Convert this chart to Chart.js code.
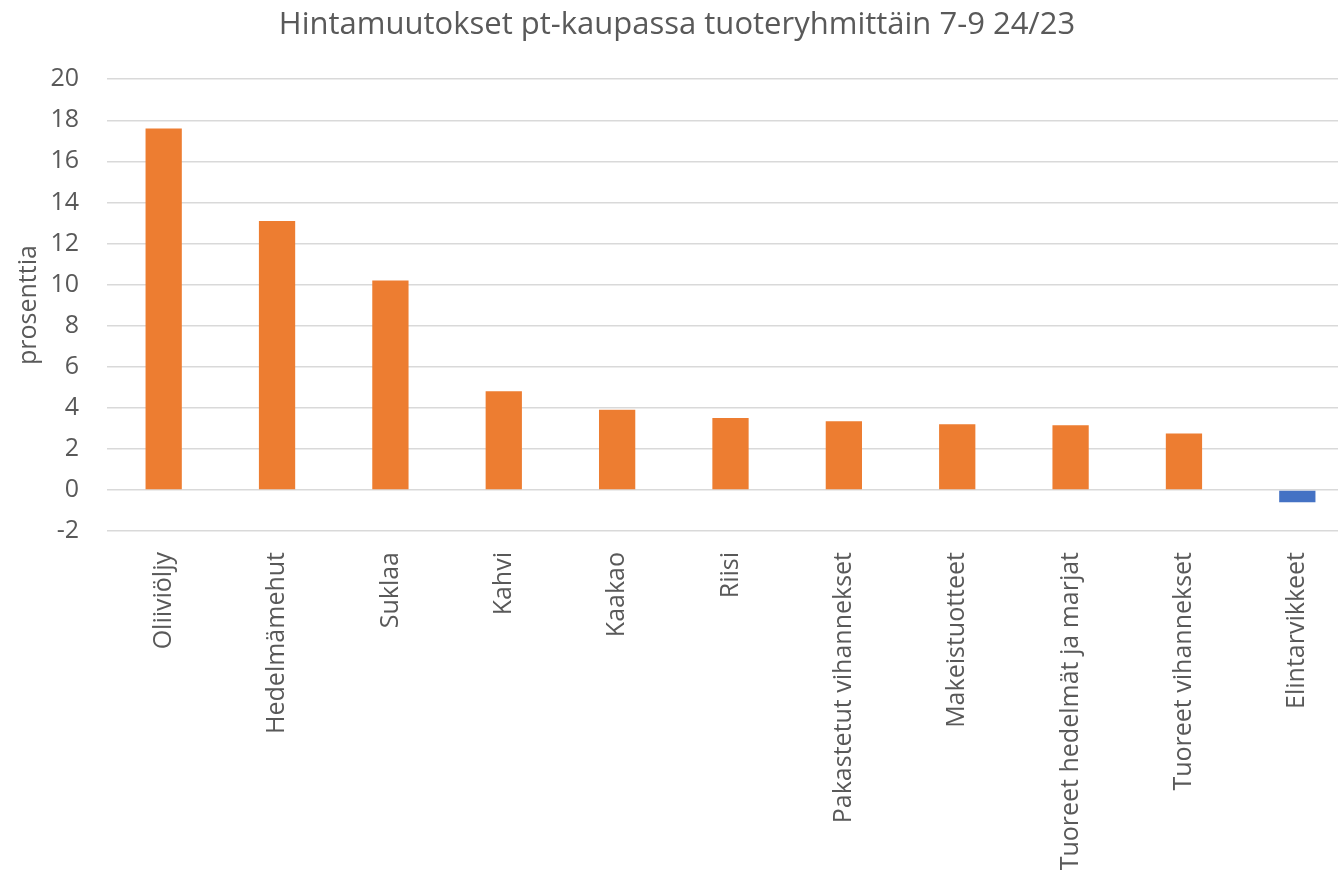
<!DOCTYPE html>
<html>
<head>
<meta charset="utf-8">
<script src="https://cdn.jsdelivr.net/npm/chart.js@4.4.1/dist/chart.umd.min.js"></script>
<style>
    html, body { margin: 0; padding: 0; background: #fff; overflow: hidden; }
    #wrap { width: 1354px; height: 877px; position: relative; }
</style>
</head>
<body>
<div id="wrap"><canvas id="chart"></canvas></div>
<script>
const title = "Hintamuutokset pt-kaupassa tuoteryhmittäin 7-9 24/23";
const yAxisLabel = "prosenttia";

const categories = [
    "Oliiviöljy",
    "Hedelmämehut",
    "Suklaa",
    "Kahvi",
    "Kaakao",
    "Riisi",
    "Pakastetut vihannekset",
    "Makeistuotteet",
    "Tuoreet hedelmät ja marjat",
    "Tuoreet vihannekset",
    "Elintarvikkeet",
];
const values = [17.6, 13.1, 10.2, 4.8, 3.9, 3.5, 3.35, 3.2, 3.15, 2.75, -0.6];

const yMin = -2;
const yMax = 20;
const yStep = 2;

const orange = "#ED7D31";
const blue = "#4472C4";
const textColor = "#595959";
const fontFamily = "'Open Sans', 'Noto Sans', sans-serif";

const ctx = document.getElementById("chart").getContext("2d");
new Chart(ctx, {
    type: "bar",
    data: {
        labels: categories,
        datasets: [
            {
                label: yAxisLabel,
                data: values,
                backgroundColor: values.map(v => v < 0 ? blue : orange),
                borderWidth: 0,
                barPercentage: 1,
                categoryPercentage: 0.32,
            },
        ],
    },
    options: {
        responsive: true,
        maintainAspectRatio: false,
        animation: false,
        layout: { padding: 0 },
        plugins: {
            legend: { display: false },
            tooltip: { enabled: false },
            title: {
                display: true,
                text: title,
                color: textColor,
                font: { family: fontFamily, size: 31, weight: "normal" },
                padding: { top: 7, bottom: 35 },
            },
        },
        scales: {
            x: {
                grid: { display: false, drawTicks: false },
                border: { display: false },
                ticks: {
                    color: textColor,
                    font: { family: fontFamily, size: 25 },
                    minRotation: 90,
                    maxRotation: 90,
                    autoSkip: false,
                    padding: 21,
                },
                afterFit: scale => { scale.height = 346; },
            },
            y: {
                min: yMin,
                max: yMax,
                grid: { color: "#d9d9d9", lineWidth: 1.5, drawTicks: false },
                border: { display: false },
                ticks: {
                    stepSize: yStep,
                    color: textColor,
                    font: { family: fontFamily, size: 25 },
                    padding: 28,
                },
                title: {
                    display: true,
                    text: yAxisLabel,
                    color: textColor,
                    font: { family: fontFamily, size: 25 },
                    padding: { top: 14, bottom: 0 },
                },
                afterFit: scale => { scale.width = 107; },
            },
        },
    },
});
</script>
</body>
</html>
